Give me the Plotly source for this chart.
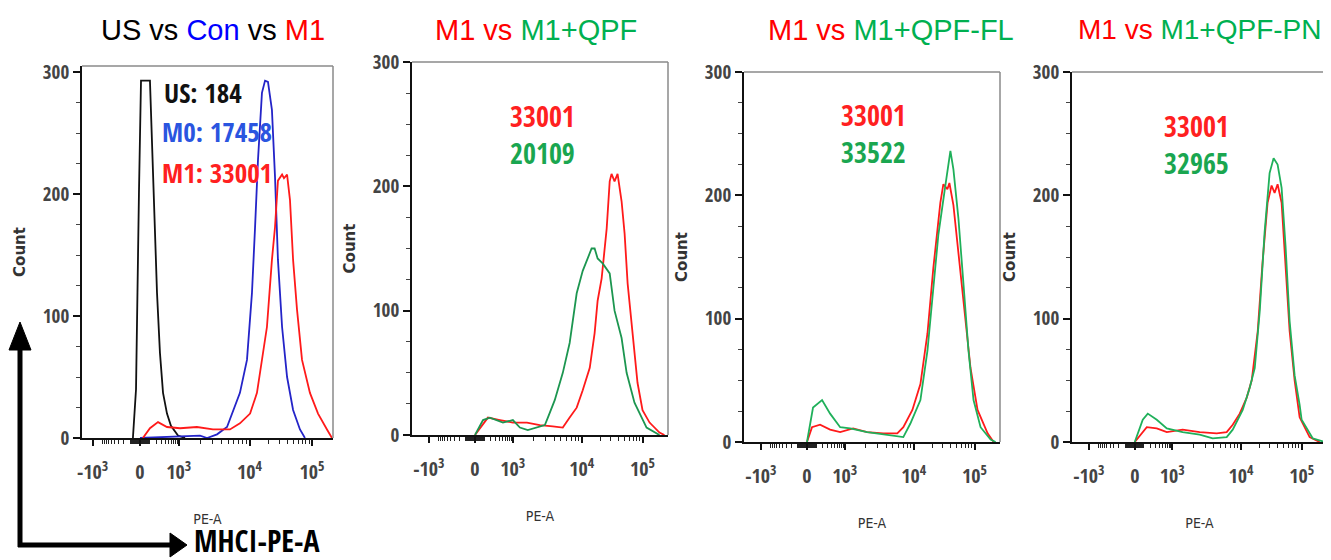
import numpy as np
import plotly.graph_objects as go
from plotly.subplots import make_subplots

W, H = 1331, 560
OFF = 8  # the page body keeps its default 8px margin

# x values are in display units of the biexponential PE-A axis (0 -> 0, 1.0 -> 10^5)
decade_pos = [-0.275, 0.0, 0.225, 0.637, 1.0]
decade_text = ["-10<sup>3</sup>", "0", "10<sup>3</sup>", "10<sup>4</sup>", "10<sup>5</sup>"]

# panel 1: US vs Con vs M1
p1_us_x = [-0.041, -0.023, -0.006, 0.006, 0.058, 0.070, 0.081, 0.099, 0.116, 0.134, 0.157, 0.180, 0.221, 0.262]
p1_us_count = [0, 40, 200, 293, 293, 240, 190, 119, 70, 37, 20, 10, 2, 0]
p1_m0_x = [0.0, 0.349, 0.390, 0.448, 0.506, 0.581, 0.622, 0.651, 0.669, 0.686, 0.709, 0.727, 0.744,
           0.767, 0.785, 0.802, 0.826, 0.855, 0.890, 0.930, 0.959]
p1_m0_count = [0, 2, 0, 3, 9, 37, 64, 119, 173, 228, 283, 293, 292, 269, 214, 146, 91, 50, 23, 7, 0]
p1_m1_x = [0.017, 0.058, 0.105, 0.157, 0.233, 0.331, 0.424, 0.523, 0.581, 0.640, 0.680, 0.709, 0.738,
           0.767, 0.785, 0.802, 0.826, 0.837, 0.855, 0.872, 0.890, 0.913, 0.942, 0.988, 1.035, 1.087, 1.116]
p1_m1_count = [0, 8, 13, 9, 8, 9, 7, 7, 12, 20, 37, 64, 91, 146, 173, 211, 216, 213, 216, 195, 146,
               105, 64, 37, 20, 7, 0]

# panel 2: M1 vs M1+QPF
p2_m1_x = [0.0, 0.077, 0.149, 0.226, 0.310, 0.387, 0.464, 0.524, 0.565, 0.607, 0.643, 0.685, 0.714,
           0.732, 0.756, 0.774, 0.786, 0.804, 0.815, 0.833, 0.851, 0.875, 0.893, 0.911, 0.940, 0.970,
           1.000, 1.042, 1.101, 1.131]
p2_m1_count = [0, 14, 12, 10, 10, 8, 7, 6, 14, 22, 36, 54, 82, 108, 126, 154, 166, 204, 210, 204,
               210, 188, 162, 122, 82, 42, 20, 10, 2, 0]
p2_qpf_x = [0.0, 0.048, 0.089, 0.167, 0.226, 0.268, 0.315, 0.369, 0.417, 0.435, 0.476, 0.524, 0.565,
            0.607, 0.643, 0.696, 0.714, 0.732, 0.762, 0.804, 0.833, 0.875, 0.905, 0.952, 1.024, 1.101]
p2_qpf_count = [0, 12, 14, 10, 12, 6, 4, 6, 8, 14, 28, 50, 74, 114, 132, 150, 150, 142, 138, 130,
                100, 78, 50, 26, 6, 0]

# panel 3: M1 vs M1+QPF-FL
p3_m1_x = [0.0, 0.030, 0.078, 0.138, 0.198, 0.275, 0.359, 0.455, 0.539, 0.575, 0.629, 0.677, 0.719,
           0.754, 0.796, 0.814, 0.838, 0.850, 0.874, 0.904, 0.934, 0.976, 1.018, 1.078, 1.114]
p3_m1_count = [0, 12, 14, 10, 8, 11, 8, 7, 7, 12, 26, 47, 88, 141, 194, 209, 205, 210, 192, 154,
               114, 60, 26, 7, 0]
p3_fl_x = [0.0, 0.036, 0.090, 0.138, 0.198, 0.257, 0.359, 0.455, 0.575, 0.617, 0.677, 0.719, 0.754,
           0.784, 0.826, 0.856, 0.874, 0.904, 0.934, 0.964, 0.994, 1.036, 1.096, 1.126]
p3_fl_count = [0, 28, 34, 23, 12, 11, 8, 6, 4, 15, 34, 74, 122, 168, 208, 236, 221, 181, 128, 74,
               34, 12, 2, 0]

# panel 4: M1 vs M1+QPF-PN
p4_m1_x = [0.0, 0.072, 0.132, 0.192, 0.287, 0.389, 0.491, 0.551, 0.587, 0.629, 0.671, 0.701, 0.737,
           0.766, 0.796, 0.820, 0.838, 0.856, 0.880, 0.904, 0.928, 0.958, 0.988, 1.048, 1.108]
p4_m1_count = [0, 12, 11, 8, 10, 8, 7, 8, 14, 23, 36, 50, 90, 146, 194, 208, 202, 209, 194, 146,
               90, 50, 20, 4, 0]
p4_pn_x = [0.0, 0.048, 0.078, 0.132, 0.192, 0.287, 0.389, 0.467, 0.551, 0.587, 0.647, 0.689, 0.719,
           0.749, 0.778, 0.808, 0.832, 0.856, 0.880, 0.904, 0.928, 0.958, 0.988, 1.000, 1.066, 1.138]
p4_pn_count = [0, 18, 23, 18, 11, 8, 6, 3, 4, 10, 26, 44, 60, 106, 170, 218, 230, 225, 206, 158,
               98, 54, 30, 18, 3, 0]

RED = "#ff1a1a"
GREEN = "#1fb05a"
GREEN_DARK = "#1c9650"
BLUE = "#2424c8"
BLACK = "#111111"

COND = "Open Sans Condensed, DejaVu Sans Condensed, sans-serif"
SANS = "Liberation Sans, Arial, sans-serif"
FW, FH = W - OFF, H - OFF


def px(x):
    return (x - OFF) / FW


def py(y):
    return 1 - (y - OFF) / FH


# pixel boxes of the four plot areas: (left, right, top, bottom), x range, y range
panels = [
    (82, 333, 66, 438, [-0.337, 1.122], [0, 305]),
    (412, 668, 62, 435, [-0.376, 1.152], [0, 300]),
    (744, 1000, 72, 442, [-0.376, 1.152], [0, 300]),
    (1072, 1327, 72, 442, [-0.376, 1.152], [0, 300]),
]

# minor ticks on the biexponential axis
def lin_region(v):
    c = 150.0
    return 0.225 * np.arcsinh(v / c) / np.arcsinh(1000 / c)

small = [m * 10 for m in range(1, 10)] + [m * 100 for m in range(1, 10)]
minor_x = [lin_region(v) for v in small] + [lin_region(-v) for v in small]
minor_x += [0.225 + np.log10(m) * (0.637 - 0.225) for m in range(2, 10)]
minor_x += [0.637 + np.log10(m) * (1.0 - 0.637) for m in range(2, 10)]
minor_y = [v for v in range(25, 300, 25) if v % 100 != 0]

fig = make_subplots(rows=1, cols=4)

curves = [
    (1, p1_us_x, p1_us_count, BLACK, "US"),
    (1, p1_m0_x, p1_m0_count, BLUE, "Con"),
    (1, p1_m1_x, p1_m1_count, RED, "M1"),
    (2, p2_m1_x, p2_m1_count, RED, "M1"),
    (2, p2_qpf_x, p2_qpf_count, GREEN_DARK, "M1+QPF"),
    (3, p3_m1_x, p3_m1_count, RED, "M1"),
    (3, p3_fl_x, p3_fl_count, GREEN, "M1+QPF-FL"),
    (4, p4_m1_x, p4_m1_count, RED, "M1"),
    (4, p4_pn_x, p4_pn_count, GREEN, "M1+QPF-PN"),
]
for col, xs, ys, color, name in curves:
    fig.add_trace(go.Scatter(x=xs, y=ys, mode="lines", name=name,
                             line=dict(color=color, width=1.8), showlegend=False),
                  row=1, col=col)

shapes = []
for i, (l, r, t, b, xr, yr) in enumerate(panels, start=1):
    fig.update_xaxes(domain=[px(l), px(r)], range=xr, row=1, col=i, automargin=False,
                     tickmode="array", tickvals=decade_pos, ticktext=decade_text,
                     ticks="outside", ticklen=6, tickwidth=2, tickcolor="#111",
                     ticklabelstandoff=9,
                     showline=True, linecolor="#111", linewidth=2, showgrid=False, zeroline=False,
                     tickfont=dict(family=COND, size=20, color="#444"),
                     minor=dict(tickmode="array", tickvals=minor_x, ticks="outside",
                                ticklen=4, tickwidth=1, tickcolor="#222", showgrid=False),
                     title=dict(text="PE-A", font=dict(family="DejaVu Sans Condensed, sans-serif",
                                                       size=14, color="#333"),
                                standoff=30))
    fig.update_yaxes(domain=[py(b), py(t)], range=yr, row=1, col=i, automargin=False,
                     tickmode="array", tickvals=[0, 100, 200, 300],
                     ticks="outside", ticklen=7, tickwidth=2, tickcolor="#111",
                     showline=True, linecolor="#111", linewidth=2, showgrid=False, zeroline=False,
                     tickfont=dict(family=COND, size=19, color="#444"),
                     minor=dict(tickmode="array", tickvals=minor_y, ticks="outside",
                                ticklen=4, tickwidth=1, tickcolor="#444", showgrid=False),
                     title=dict(text="<b>Count</b>", font=dict(family="DejaVu Sans", size=15, color="#333"),
                                standoff=14))
    xs = "x" if i == 1 else f"x{i}"
    ys = "y" if i == 1 else f"y{i}"
    shapes.append(dict(type="line", xref=f"{xs} domain", yref=f"{ys} domain",
                       x0=0, x1=1, y0=1, y1=1, line=dict(color="#8a8a8a", width=1.5)))
    shapes.append(dict(type="line", xref=f"{xs} domain", yref=f"{ys} domain",
                       x0=1, x1=1, y0=0, y1=1, line=dict(color="#8a8a8a", width=1.5)))

# L-shaped axis arrows at bottom-left
shapes += [
    dict(type="line", xref="paper", yref="paper", x0=px(20), x1=px(20), y0=py(547), y1=py(346),
         line=dict(color="black", width=5)),
    dict(type="path", xref="paper", yref="paper",
         path=f"M {px(9)} {py(350)} L {px(31)} {py(350)} L {px(20)} {py(322)} Z",
         fillcolor="black", line=dict(color="black", width=1)),
    dict(type="line", xref="paper", yref="paper", x0=px(18), x1=px(174), y0=py(545), y1=py(545),
         line=dict(color="black", width=5)),
    dict(type="path", xref="paper", yref="paper",
         path=f"M {px(170)} {py(533)} L {px(170)} {py(557)} L {px(187)} {py(545)} Z",
         fillcolor="black", line=dict(color="black", width=1)),
]

def note(x, y, text, size, family=COND, color="black", anchor="center"):
    return dict(x=px(x), y=py(y), xref="paper", yref="paper", text=text, showarrow=False,
                xanchor=anchor, yanchor="middle", borderpad=0,
                font=dict(family=family, size=size, color=color))

def span(text, color):
    return f"<span style='color:{color}'>{text}</span>"

TRED, TGREEN, TBLUE = "#ff0000", "#00b050", "#0000ff"
annotations = [
    note(213, 30, "US vs " + span("Con", TBLUE) + " vs " + span("M1", TRED), 29, SANS),
    note(536, 30, span("M1 vs ", TRED) + span("M1+QPF", TGREEN), 29, SANS),
    note(891, 30, span("M1 vs ", TRED) + span("M1+QPF-FL", TGREEN), 29, SANS),
    note(1200, 30, span("M1 vs ", TRED) + span("M1+QPF-PN", TGREEN), 28, SANS),
    note(163, 92, "US: 184", 27, color="#111", anchor="left"),
    note(161, 131, "M0: 17458", 27, color="#2a55e0", anchor="left"),
    note(161, 172, "M1: 33001", 27, color="#ff2020", anchor="left"),
    note(542, 116, "33001", 28, color="#ff2020"),
    note(542, 153, "20109", 28, color="#1aa650"),
    note(873, 115, "33001", 28, color="#ff2020"),
    note(873, 152, "33522", 28, color="#1aa650"),
    note(1196, 126, "33001", 28, color="#ff2020"),
    note(1196, 163, "32965", 28, color="#1aa650"),
    note(193, 540, "MHCI-PE-A", 30, anchor="left"),
]

fig.update_layout(width=FW, height=FH, margin=dict(l=0, r=0, t=0, b=0),
                  paper_bgcolor="white", plot_bgcolor="white",
                  shapes=shapes, annotations=annotations, showlegend=False)

fig.write_html("out.html")
